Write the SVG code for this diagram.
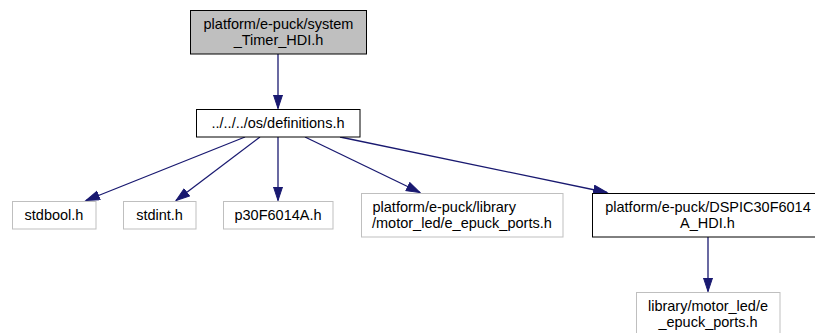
<svg xmlns="http://www.w3.org/2000/svg" width="815" height="333" viewBox="0 0 815 333">
<style>
.box{fill:#ffffff;stroke:#000000;stroke-width:1}
.ext{fill:#ffffff;stroke:#bfbfbf;stroke-width:1}
.main{fill:#bfbfbf;stroke:#000000;stroke-width:1}
text{font-family:"Liberation Sans",Arial,sans-serif;font-size:14.5px;fill:#000000;text-anchor:middle}
.edge{stroke:#191970;stroke-width:1.3;fill:none;marker-end:url(#arr)}
</style>
<defs>
<marker id="arr" markerUnits="userSpaceOnUse" markerWidth="16" markerHeight="12" refX="14" refY="5" orient="auto">
<polygon points="0.5,0.5 14,5 0.5,9.5" fill="#191970" stroke="#191970" stroke-width="1"/>
</marker>
</defs>
<rect width="815" height="333" fill="#ffffff"/>
<g id="connectors">
<line class="edge" x1="278" y1="54" x2="278" y2="108.5"/>
<line class="edge" x1="245" y1="137" x2="86" y2="200.5"/>
<line class="edge" x1="260" y1="137" x2="176" y2="200.5"/>
<line class="edge" x1="278" y1="137" x2="278" y2="200.5"/>
<line class="edge" x1="305" y1="137" x2="420" y2="192.5"/>
<line class="edge" x1="340" y1="137" x2="607" y2="192.5"/>
<line class="edge" x1="708" y1="237" x2="708" y2="291.5"/>
</g>
<g id="node_system_timer">
<rect class="main" x="190.5" y="10.5" width="176" height="43.5"/>
<text x="278.5" y="29">platform/e-puck/system</text>
<text x="278.5" y="45">_Timer_HDI.h</text>
</g>
<g id="node_definitions">
<rect class="box" x="196.5" y="109.5" width="163.5" height="27.5"/>
<text x="278" y="128">../../../os/definitions.h</text>
</g>
<g id="node_stdbool">
<rect class="ext" x="12.5" y="201.5" width="83.5" height="27.5"/>
<text x="54" y="220">stdbool.h</text>
</g>
<g id="node_stdint">
<rect class="ext" x="123.5" y="201.5" width="72.5" height="27.5"/>
<text x="159.5" y="220">stdint.h</text>
</g>
<g id="node_p30">
<rect class="ext" x="223.5" y="201.5" width="109.5" height="27.5"/>
<text x="278" y="220">p30F6014A.h</text>
</g>
<g id="node_eports">
<rect class="ext" x="361.5" y="193.5" width="201.5" height="43.5"/>
<text x="372.5" y="212" style="text-anchor:start">platform/e-puck/library</text>
<text x="372" y="228" style="text-anchor:start">/motor_led/e_epuck_ports.h</text>
</g>
<g id="node_dspic">
<rect class="box" x="592.5" y="193.5" width="232" height="43.5"/>
<text x="708" y="212">platform/e-puck/DSPIC30F6014</text>
<text x="707.5" y="228">A_HDI.h</text>
</g>
<g id="node_lib_eports">
<rect class="ext" x="636.5" y="292.5" width="143.5" height="43.5"/>
<text x="708" y="311">library/motor_led/e</text>
<text x="708" y="327">_epuck_ports.h</text>
</g>
</svg>
